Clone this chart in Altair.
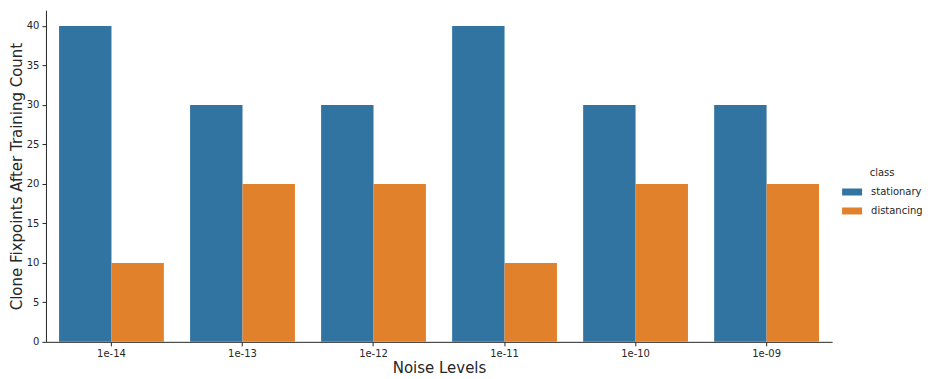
import altair as alt
import pandas as pd

noise_levels = ["1e-14", "1e-13", "1e-12", "1e-11", "1e-10", "1e-09"]
classes = ["stationary", "distancing"]
stationary = [40, 30, 30, 40, 30, 30]
distancing = [10, 20, 20, 10, 20, 20]
colors = ["#3274a1", "#e1812c"]
y_ticks = [0, 5, 10, 15, 20, 25, 30, 35, 40]

rows = []
for i, lvl in enumerate(noise_levels):
    rows.append({"noise": lvl, "class": "stationary", "count": stationary[i]})
    rows.append({"noise": lvl, "class": "distancing", "count": distancing[i]})
df = pd.DataFrame(rows)

FONT = "DejaVu Sans"
INK = "#262626"

chart = alt.Chart(df).mark_bar(strokeWidth=0).encode(
    x=alt.X("noise:N", sort=noise_levels,
            scale=alt.Scale(paddingInner=0.2, paddingOuter=0.1),
            axis=alt.Axis(title="Noise Levels", labelAngle=0, labelFontSize=10,
                          titleFontSize=15, titleFontWeight="normal",
                          tickSize=4, labelPadding=3, titlePadding=2,
                          domainColor=INK, tickColor=INK,
                          labelColor=INK, titleColor=INK)),
    xOffset=alt.XOffset("class:N", sort=classes,
                        scale=alt.Scale(paddingInner=0, paddingOuter=0)),
    y=alt.Y("count:Q", scale=alt.Scale(domain=[0, 42], nice=False),
            axis=alt.Axis(title="Clone Fixpoints After Training Count",
                          values=y_ticks, grid=False, labelFontSize=10,
                          titleFontSize=15, titleFontWeight="normal",
                          tickSize=4, labelPadding=3, titlePadding=2,
                          domainColor=INK, tickColor=INK,
                          labelColor=INK, titleColor=INK)),
    color=alt.Color("class:N", sort=classes,
                    scale=alt.Scale(domain=classes, range=colors),
                    legend=alt.Legend(title="class", orient="none",
                                      legendX=797, legendY=158,
                                      titleAnchor="middle",
                                      titleFontSize=10, titleFontWeight="normal",
                                      labelFontSize=10,
                                      symbolType="M-1,-0.35L1,-0.35L1,0.35L-1,0.35Z",
                                      symbolSize=400, symbolStrokeWidth=0,
                                      symbolOpacity=1, rowPadding=4,
                                      labelOffset=9, titlePadding=4,
                                      titleColor=INK, labelColor=INK)),
).properties(
    width=787, height=332,
    autosize=alt.AutoSizeParams(type="none"),
    padding={"left": 38, "top": 2, "right": 90, "bottom": 36},
).configure(font=FONT).configure_view(strokeWidth=0, stroke=None)

chart.save("out.html", embed_options={"renderer": "svg", "actions": False})
